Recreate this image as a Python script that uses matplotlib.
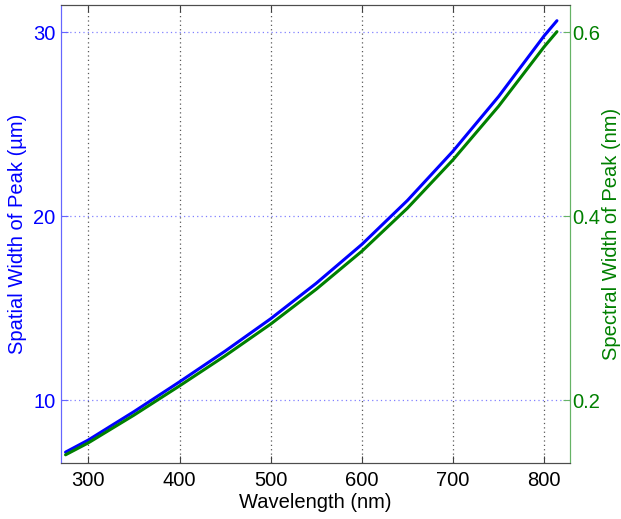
import matplotlib
matplotlib.use("Agg")
import matplotlib.pyplot as plt
import numpy as np

plt.rcParams['font.family'] = ['Liberation Sans', 'DejaVu Sans']

# values
wavelength = [275, 300, 350, 400, 450, 500, 550, 600, 650, 700, 750, 800, 814]
spatial_width = [7.17, 7.83, 9.37, 10.99, 12.66, 14.42, 16.35, 18.46, 20.85, 23.53, 26.5, 29.8, 30.62]
spectral_width = [0.1405, 0.1535, 0.1836, 0.2154, 0.2481, 0.2826, 0.3205, 0.3618,
                  0.4086, 0.4612, 0.5194, 0.5841, 0.6005]

x_ticks = [300, 400, 500, 600, 700, 800]
left_ticks = [10, 20, 30]
right_ticks = [0.2, 0.4, 0.6]

blue = (0, 0, 1)
green = (0, 0.5, 0)
fs = 14.5

fig = plt.figure(figsize=(6.21, 5.19), dpi=100)
ax = fig.add_axes([0.0982, 0.1079, 0.8192, 0.8834])
ax2 = ax.twinx()

ax.plot(wavelength, spatial_width, color=blue, lw=2.2, solid_capstyle='round')
ax2.plot(wavelength, spectral_width, color=green, lw=2.2, solid_capstyle='round')

ax.set_xlim(270, 828)
ax.set_ylim(6.58, 31.5)
ax2.set_ylim(6.58 / 50, 31.5 / 50)

ax.set_xticks(x_ticks)
ax.set_yticks(left_ticks)
ax2.set_yticks(right_ticks)
ax2.set_yticklabels([f"{t:.1f}" for t in right_ticks])

# grid: vertical grey dotted, horizontal light-blue dotted
ax.xaxis.grid(True, linestyle=(0, (1, 2.5)), color=(0.35, 0.35, 0.35), lw=0.9)
ax.yaxis.grid(True, linestyle=(0, (1, 2.5)), color=(0.5, 0.5, 1.0), lw=0.9)

ax.tick_params(axis='x', direction='in', length=5, colors=(0.25, 0.25, 0.25),
               labelcolor='black', labelsize=fs, top=True, pad=6)
ax.tick_params(axis='y', direction='in', length=5, colors=(0.4, 0.4, 1.0),
               labelcolor=blue, labelsize=fs, pad=4)
ax2.tick_params(axis='y', direction='in', length=5, colors=(0.4, 0.7, 0.4),
                labelcolor=green, labelsize=fs, pad=2)

for s in ['top', 'bottom']:
    ax.spines[s].set_color((0.3, 0.3, 0.3))
    ax2.spines[s].set_color((0.3, 0.3, 0.3))
ax.spines['left'].set_color((0.4, 0.4, 1.0))
ax2.spines['left'].set_color((0.4, 0.4, 1.0))
ax.spines['right'].set_color((0.4, 0.7, 0.4))
ax2.spines['right'].set_color((0.4, 0.7, 0.4))

ax.set_xlabel('Wavelength (nm)', fontsize=fs, labelpad=2)
ax.set_ylabel('Spatial Width of Peak (\u00b5m)', fontsize=fs, color=blue, labelpad=4)
ax2.set_ylabel('Spectral Width of Peak (nm)', fontsize=fs, color=green, labelpad=1)

fig.savefig('out.png', dpi=100)
